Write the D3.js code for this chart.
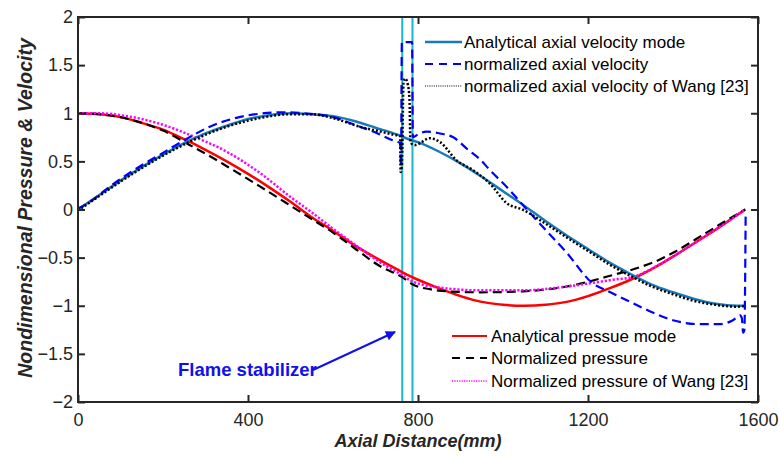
<!DOCTYPE html>
<html>
<head>
<meta charset="utf-8">
<script src="https://cdn.jsdelivr.net/npm/d3@7"></script>
<style>
  body { margin: 0; background: #fff; }
  svg { display: block; font-family: "Liberation Sans", Arial, sans-serif; }
</style>
</head>
<body>
<svg id="chart" width="779" height="457"></svg>
<script>
// ---- data (x in mm) ----
var xTicks = [0, 400, 800, 1200, 1600];
var yTicks = [-2, -1.5, -1, -0.5, 0, 0.5, 1, 1.5, 2];
var stabilizerPos = [763, 787];

// analytical axial velocity mode
var posVelAna = [0,50,100,150,200,250,300,350,400,450,500,550,600,650,700,750,775,800,850,900,950,1000,1050,1100,1150,1200,1250,1300,1350,1400,1450,1500,1550,1570];
var velAna    = [0,0.15,0.30,0.44,0.57,0.69,0.79,0.87,0.94,0.98,1.0,0.99,0.97,0.92,0.85,0.78,0.735,0.70,0.60,0.48,0.34,0.19,0.04,-0.12,-0.27,-0.41,-0.55,-0.67,-0.78,-0.86,-0.93,-0.98,-1.0,-1.0];

// normalized axial velocity
var posVelNorm = [0,25,75,150,193,250,310,370,428,480,530,600,663,700,740,758,760,762,786,788,800,820,852,883,918,946,969,1016,1040,1079,1150,1212,1243,1290,1337,1400,1456,1510,1541,1558,1562,1565,1568,1571];
var velNorm    = [0.01,0.07,0.24,0.46,0.57,0.72,0.86,0.95,0.995,1.01,1.0,0.96,0.86,0.8,0.72,0.69,0.45,1.74,1.74,0.75,0.78,0.81,0.79,0.75,0.62,0.52,0.41,0.2,0.08,-0.11,-0.45,-0.77,-0.84,-0.94,-1.04,-1.15,-1.19,-1.19,-1.15,-1.1,-1.13,-1.28,-1.25,-0.02];

// normalized axial velocity of Wang [23]
var posVelWang = [0,50,100,150,200,271,350,428,500,550,600,663,711,740,758,759,762,766,770,776,780,782,786,793,828,852,891,929,969,1009,1048,1087,1150,1200,1250,1300,1350,1400,1450,1500,1550,1570];
var velWang    = [-0.01,0.14,0.29,0.43,0.56,0.72,0.86,0.95,0.99,0.99,0.95,0.86,0.81,0.78,0.76,0.39,0.45,1.33,1.36,1.3,1.15,0.72,0.68,0.67,0.74,0.70,0.51,0.41,0.27,0.065,-0.005,-0.11,-0.29,-0.43,-0.57,-0.69,-0.8,-0.88,-0.95,-0.99,-1.01,-1.0];

// analytical pressure mode
var posPresAna = [0,50,100,150,200,250,300,350,400,450,500,550,600,650,700,750,775,800,850,900,950,1000,1050,1100,1150,1200,1250,1300,1350,1400,1450,1500,1550,1570];
var presAna    = [1,0.99,0.96,0.9,0.83,0.73,0.62,0.5,0.37,0.23,0.08,-0.08,-0.22,-0.37,-0.5,-0.62,-0.68,-0.73,-0.82,-0.9,-0.96,-0.99,-1.0,-0.99,-0.96,-0.9,-0.82,-0.73,-0.62,-0.49,-0.35,-0.21,-0.06,0];

// normalized pressure
var posPresNorm = [0,50,100,150,200,271,300,350,428,500,550,600,650,711,762,788,830,868,946,1047,1150,1259,1322,1369,1400,1479,1558,1570];
var presNorm    = [1,0.99,0.96,0.9,0.82,0.65,0.58,0.45,0.24,0.04,-0.1,-0.24,-0.4,-0.59,-0.7,-0.78,-0.83,-0.85,-0.86,-0.85,-0.8,-0.68,-0.6,-0.52,-0.45,-0.24,-0.03,0];

// normalized pressure of Wang [23]
var posPresWang = [0,50,100,150,200,271,350,428,500,550,600,650,711,762,788,868,946,1047,1150,1259,1306,1369,1400,1450,1500,1550,1570];
var presWang    = [1,1.0,0.98,0.94,0.88,0.76,0.6,0.38,0.13,-0.03,-0.2,-0.36,-0.55,-0.68,-0.75,-0.82,-0.84,-0.84,-0.8,-0.73,-0.7,-0.57,-0.49,-0.35,-0.21,-0.06,0];

// ---- layout ----
var plot = {left: 78, right: 758, top: 17, bottom: 402};
var svg = d3.select("#chart");
var x = d3.scaleLinear().domain([0, 1600]).range([plot.left, plot.right]);
var y = d3.scaleLinear().domain([-2, 2]).range([plot.bottom, plot.top]);
var axisColor = "#262626";

// stabilizer lines
stabilizerPos.forEach(function(p) {
  svg.append("line").attr("x1", x(p)).attr("x2", x(p)).attr("y1", plot.top).attr("y2", plot.bottom)
    .attr("stroke", "#17b6cc").attr("stroke-width", 2);
});

function zip(xs, ys) { return xs.map(function(v, i) { return [v, ys[i]]; }); }
var line = d3.line().x(function(d) { return x(d[0]); }).y(function(d) { return y(d[1]); })
  .curve(d3.curveMonotoneX);

var series = [
  {xs: posPresAna,  ys: presAna,  color: "#ff0000", dash: null,      w: 2.5},
  {xs: posPresNorm, ys: presNorm, color: "#000000", dash: "9,5",     w: 2.2},
  {xs: posPresWang, ys: presWang, color: "#ff00ff", dash: "2.2,1.8", w: 2.5},
  {xs: posVelAna,   ys: velAna,   color: "#1a7ab8", dash: null,      w: 2.5},
  {xs: posVelNorm,  ys: velNorm,  color: "#0000ff", dash: "9,5",     w: 2.2},
  {xs: posVelWang,  ys: velWang,  color: "#000000", dash: "2,2",     w: 2.5}
];
series.forEach(function(s) {
  svg.append("path").datum(zip(s.xs, s.ys)).attr("d", line)
    .attr("fill", "none").attr("stroke", s.color).attr("stroke-width", s.w)
    .attr("stroke-dasharray", s.dash);
});

// ---- axes ----
var gx = svg.append("g").attr("transform", "translate(0," + plot.bottom + ")")
  .call(d3.axisBottom(x).tickValues(xTicks).tickSizeInner(-7).tickSizeOuter(0).tickPadding(11).tickFormat(d3.format("d")));
var gy = svg.append("g").attr("transform", "translate(" + plot.left + ",0)")
  .call(d3.axisLeft(y).tickValues(yTicks).tickSizeInner(-7).tickSizeOuter(0).tickPadding(5).tickFormat(d3.format("")));
var gxt = svg.append("g").attr("transform", "translate(0," + plot.top + ")")
  .call(d3.axisTop(x).tickValues(xTicks).tickSizeInner(-7).tickSizeOuter(0).tickFormat(""));
var gyr = svg.append("g").attr("transform", "translate(" + plot.right + ",0)")
  .call(d3.axisRight(y).tickValues(yTicks).tickSizeInner(-7).tickSizeOuter(0).tickFormat(""));
[gx, gy, gxt, gyr].forEach(function(g) {
  g.select(".domain").remove();
  g.selectAll(".tick line").attr("stroke", axisColor).attr("stroke-width", 2);
  g.selectAll(".tick text").attr("fill", axisColor).style("font-size", "18px").style("font-family", "Liberation Sans, Arial, sans-serif");
});
svg.append("rect").attr("x", plot.left).attr("y", plot.top)
  .attr("width", plot.right - plot.left).attr("height", plot.bottom - plot.top)
  .attr("fill", "none").attr("stroke", axisColor).attr("stroke-width", 2);

// axis labels
svg.append("text").attr("x", (plot.left + plot.right) / 2).attr("y", 447)
  .attr("text-anchor", "middle").style("font-size", "18px").style("font-weight", "bold").style("font-style", "italic")
  .attr("fill", axisColor).text("Axial Distance(mm)");
svg.append("g").attr("transform", "translate(32, 208)").append("text").attr("text-anchor", "middle")
  .attr("transform", "rotate(-90)").style("font-size", "19.5px").style("font-weight", "bold").style("font-style", "italic")
  .attr("fill", axisColor).text("Nondimensional Pressure & Velocity");

// ---- legends ----
function legend(items, x0, x1, tx, ys) {
  items.forEach(function(it, i) {
    svg.append("line").attr("x1", x0).attr("x2", x1).attr("y1", ys[i]).attr("y2", ys[i])
      .attr("stroke", it.color).attr("stroke-width", it.w).attr("stroke-dasharray", it.dash);
    svg.append("text").attr("x", tx).attr("y", ys[i]).attr("dy", "0.35em")
      .style("font-size", "17px").attr("fill", "#000").text(it.label);
  });
}
legend([
  {label: "Analytical axial velocity mode", color: "#1a7ab8", w: 2.5, dash: null},
  {label: "normalized axial velocity", color: "#0000ff", w: 2.2, dash: "8,6"},
  {label: "normalized axial velocity of Wang [23]", color: "#000000", w: 1.2, dash: "1,1.2"}
], 425, 462, 464, [42, 64, 86]);
legend([
  {label: "Analytical pressue mode", color: "#ff0000", w: 2.2, dash: null},
  {label: "Normalized pressure", color: "#000000", w: 2.2, dash: "8,6"},
  {label: "Normalized pressure of Wang [23]", color: "#ff00ff", w: 1.5, dash: "1.2,1.2"}
], 452, 487, 491, [336, 358, 381]);

// ---- annotation ----
svg.append("defs").append("marker").attr("id", "arrowHead").attr("viewBox", "0 0 10 10")
  .attr("refX", 9).attr("refY", 5).attr("markerWidth", 12).attr("markerHeight", 10)
  .attr("markerUnits", "userSpaceOnUse").attr("orient", "auto")
  .append("path").attr("d", "M0,0 L10,5 L0,10 Z").attr("fill", "#1010ee");
svg.append("line").attr("x1", 313).attr("y1", 370).attr("x2", 395).attr("y2", 332)
  .attr("stroke", "#1010ee").attr("stroke-width", 2).attr("marker-end", "url(#arrowHead)");
svg.append("text").attr("x", 178).attr("y", 376).style("font-size", "18.5px").style("font-weight", "bold")
  .attr("fill", "#1010ee").text("Flame stabilizer");
</script>
</body>
</html>
